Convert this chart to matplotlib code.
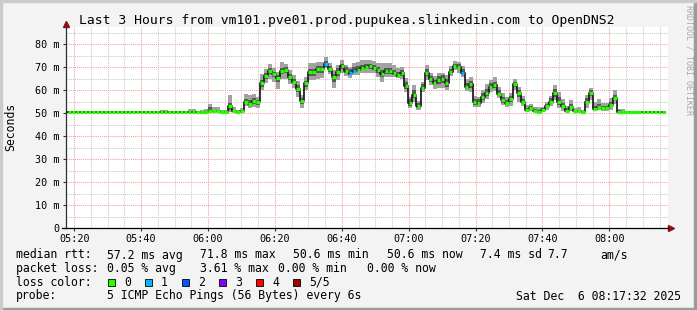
import numpy as np
import matplotlib
matplotlib.use("Agg")
import matplotlib.pyplot as plt
from matplotlib.patches import Rectangle

plt.rcParams["font.family"] = "DejaVu Sans Mono"

# %% Data (one value per 72 s step)

T_START = 317 + 32 / 60        # 05:17:32 in minutes since midnight
T_SPAN = 180                   # last 3 hours
STEP = 1.2                     # minutes per RRD step
T_OFFSET = 0.4                 # first step starts a bit after the left edge

median = ([50.6] * 30 +
          [50.6, 50.6, 50.6, 50.6, 50.6, 51.0, 51.0, 51.0, 50.6, 50.6,
           53.2, 50.8, 50.6, 50.8, 54.9, 53.8, 55.4, 54.6, 62.9, 66.1,
           68.3, 66.8, 65.4, 68.4, 68.7, 65.8, 63.6, 60.4, 55.4, 62.9,
           67.7, 67.7, 69.1, 69.1, 71.3, 69.2, 65.8, 67.7, 70.3, 68.4,
           67.5, 68.4, 68.9, 69.7, 70.1, 70.3, 69.6, 68.7, 66.9, 68.3,
           68.4, 67.4, 66.4, 67.2, 61.9, 54.2, 57.8, 53.2, 61.0, 67.5,
           64.8, 62.9, 64.3, 64.9, 63.2, 67.7, 70.6, 70.1, 67.5, 61.4,
           62.6, 54.6, 54.5, 56.8, 58.9, 61.4, 62.0, 58.3, 55.7, 54.5,
           56.1, 62.5, 58.6, 55.0, 51.3, 52.0, 51.0, 50.6, 51.3, 53.0,
           54.9, 58.9, 54.9, 53.0, 51.0, 52.8, 51.0, 51.0, 50.6, 54.9,
           58.6, 51.6, 52.8, 52.0, 52.0, 53.5, 56.7, 50.6, 50.6, 50.6] +
          [50.6] * 9)

# slowest ping of the 5
ping_max = ([50.6] * 23 + [51.3, 51.3] + [50.6] * 5 +
            [51.7, 51.7, 50.6, 51.3, 51.6, 53.9, 52.5, 52.5, 51.5, 51.3,
             57.8, 52.7, 51.2, 52.0, 58.3, 58.0, 58.3, 57.0, 67.0, 69.0,
             71.5, 69.5, 68.0, 72.0, 71.5, 68.5, 66.5, 64.0, 58.0, 65.5,
             71.6, 71.6, 72.3, 72.3, 74.5, 71.6, 68.5, 70.9, 73.0, 70.9,
             70.1, 71.6, 72.3, 73.0, 73.0, 73.0, 72.5, 71.6, 71.6, 71.6,
             71.6, 70.9, 69.4, 70.1, 65.1, 57.1, 62.2, 55.3, 63.6, 70.9,
             67.5, 66.0, 67.5, 67.5, 66.5, 70.5, 72.5, 72.3, 70.5, 65.0,
             65.5, 57.5, 57.1, 60.0, 62.5, 64.5, 65.5, 61.5, 58.5, 57.0,
             58.5, 65.0, 61.5, 57.5, 53.5, 54.0, 52.5, 52.5, 52.8, 55.0,
             57.5, 62.0, 59.3, 56.0, 53.0, 55.5, 52.0, 52.5, 51.3, 58.0,
             61.0, 55.0, 56.0, 54.5, 54.5, 56.5, 60.0, 51.7, 51.7, 50.6] +
            [50.6] * 9)

# 4th ping (upper edge of the dark smoke)
ping_4 = ([50.6] * 23 + [50.9, 50.9] + [50.6] * 5 +
          [51.0, 51.0, 50.6, 50.9, 51.0, 52.5, 51.5, 51.5, 51.0, 50.9,
           54.5, 51.5, 50.9, 51.3, 56.0, 55.5, 56.5, 55.5, 64.5, 67.5,
           69.5, 68.0, 66.5, 69.5, 70.0, 67.0, 65.0, 62.0, 56.5, 64.0,
           69.0, 69.0, 70.5, 70.5, 72.5, 70.5, 67.0, 69.5, 71.5, 70.0,
           69.0, 70.0, 70.5, 71.0, 71.5, 71.5, 71.0, 70.0, 68.5, 69.5,
           69.5, 68.5, 68.0, 68.5, 63.5, 56.0, 60.0, 54.5, 62.5, 69.0,
           66.0, 64.5, 66.0, 66.5, 65.0, 69.0, 71.5, 71.5, 69.0, 63.0,
           64.0, 56.0, 56.0, 58.5, 60.5, 63.0, 63.5, 60.0, 57.0, 55.5,
           57.5, 63.5, 60.0, 56.0, 52.0, 53.0, 51.8, 51.3, 52.0, 54.0,
           56.5, 60.5, 57.0, 54.5, 52.0, 54.0, 51.5, 51.5, 51.0, 56.5,
           60.0, 53.0, 54.0, 53.0, 53.0, 55.0, 58.0, 51.3, 51.0, 50.6] +
          [50.6] * 9)

# 2nd ping (lower edge of the dark smoke)
ping_2 = ([50.6] * 30 +
          [50.6, 50.6, 50.6, 50.6, 50.6, 50.8, 50.8, 50.8, 50.6, 50.6,
           51.5, 50.6, 50.6, 50.6, 54.0, 53.0, 54.0, 53.5, 61.5, 65.0,
           67.0, 65.5, 63.5, 67.0, 67.5, 64.5, 62.5, 59.0, 54.0, 61.5,
           66.0, 66.0, 67.5, 67.5, 70.0, 68.0, 63.5, 66.0, 69.0, 67.5,
           66.5, 67.5, 68.0, 68.5, 69.0, 69.0, 68.5, 67.5, 65.5, 67.0,
           67.0, 66.5, 65.5, 66.0, 60.5, 53.0, 56.5, 52.0, 60.0, 66.0,
           63.5, 62.0, 62.5, 63.0, 61.5, 67.0, 69.5, 69.0, 66.5, 60.5,
           61.0, 53.5, 53.5, 55.5, 57.5, 60.5, 61.0, 57.5, 54.5, 53.5,
           55.0, 61.5, 57.0, 54.0, 51.0, 51.5, 50.8, 50.6, 51.0, 52.3,
           54.0, 57.0, 53.5, 52.0, 50.8, 52.0, 50.8, 50.8, 50.6, 54.0,
           57.5, 51.2, 52.2, 51.5, 51.5, 52.5, 55.5, 50.6, 50.6, 50.6] +
          [50.6] * 9)

# fastest ping of the 5
ping_min = ([50.6] * 30 +
            [50.6, 50.6, 50.6, 50.6, 50.6, 50.6, 50.6, 50.6, 50.6, 50.6,
             50.6, 50.6, 50.6, 50.6, 53.0, 52.0, 52.5, 52.0, 60.0, 63.0,
             65.0, 63.5, 60.5, 65.0, 65.0, 62.5, 61.0, 57.0, 52.0, 60.0,
             64.3, 64.3, 65.0, 65.1, 69.4, 67.0, 60.7, 64.3, 67.3, 66.0,
             65.1, 66.5, 66.5, 67.3, 67.3, 67.3, 67.3, 65.8, 63.6, 65.8,
             65.8, 65.8, 65.1, 64.6, 59.3, 52.0, 55.0, 51.3, 59.3, 64.3,
             62.0, 60.5, 60.7, 61.0, 60.0, 66.0, 68.5, 67.5, 65.5, 59.5,
             59.3, 52.5, 52.5, 54.5, 56.0, 59.0, 59.5, 56.5, 53.5, 52.5,
             53.0, 60.0, 55.0, 53.0, 50.6, 50.8, 50.6, 50.6, 50.6, 51.5,
             53.0, 55.5, 52.0, 51.0, 50.6, 51.0, 50.6, 50.6, 50.6, 52.0,
             55.5, 50.8, 51.5, 51.0, 51.0, 51.5, 54.0, 50.6, 50.6, 50.6] +
            [50.6] * 9)

loss1_steps = [64, 70, 71, 98]     # steps where 1 of 5 pings was lost

x_tick_min = [320, 340, 360, 380, 400, 420, 440, 460, 480]
x_tick_labels = ["05:20", "05:40", "06:00", "06:20", "06:40",
                 "07:00", "07:20", "07:40", "08:00"]
y_ticks = [0, 10, 20, 30, 40, 50, 60, 70, 80]
y_tick_labels = ["0", "10 m", "20 m", "30 m", "40 m", "50 m", "60 m", "70 m", "80 m"]

loss_names = ["0", "1", "2", "3", "4", "5/5"]
loss_colors = ["#26ff00", "#00b8ff", "#0059ff", "#7e00ff", "#ff0000", "#a10000"]

stats_rtt = [("median rtt:", 16), ("57.2 ms avg", 107), ("71.8 ms max", 200),
             ("50.6 ms min", 293), ("50.6 ms now", 387), ("7.4 ms sd", 480),
             ("7.7", 547), ("am/s", 600)]
stats_loss = [("packet loss:", 16), ("0.05 % avg", 107), ("3.61 % max", 200),
              ("0.00 % min", 278), ("0.00 % now", 367)]

# %% Figure layout (pixel geometry of the rrdtool canvas)

W, H = 697, 310
fig = plt.figure(figsize=(W / 100, H / 100), dpi=100, facecolor="#f3f3f3")

def fx(px):
    return px / W

def fy(py):
    return 1 - py / H

# 3D-ish frame
fig.patches.append(Rectangle((0, 0), 1, fy(H - 2), transform=fig.transFigure,
                             color="#9b9b9b", zorder=0))
fig.patches.append(Rectangle((fx(W - 3), 0), fx(3), 1, transform=fig.transFigure,
                             color="#9b9b9b", zorder=0))
fig.patches.append(Rectangle((0, 0), fx(2), 1, transform=fig.transFigure,
                             color="#cbcbcb", zorder=0))
fig.patches.append(Rectangle((0, fy(2)), 1, 2 / H, transform=fig.transFigure,
                             color="#cbcbcb", zorder=0))

L, R, TOP, BOT = 66, 668, 27, 228
ax = fig.add_axes([fx(L), fy(BOT), fx(R - L), (BOT - TOP) / H])
ax.set_facecolor("white")

# %% Smoke + median

n = len(median)
edges = T_START + T_OFFSET + STEP * np.arange(n + 1)

def stepped(vals):
    return np.append(vals, vals[-1])

ax.fill_between(edges, stepped(ping_min), stepped(ping_max), step="post",
                color="#a2a2a2", lw=0, zorder=2)
ax.fill_between(edges, stepped(ping_2), stepped(ping_4), step="post",
                color="#585858", lw=0, zorder=3)
ax.step(edges, stepped(median), where="post", color="#202020", lw=1.3, zorder=4)

seg_colors = [loss_colors[1] if i in loss1_steps else loss_colors[0] for i in range(n)]
ax.hlines(median, edges[:-1] + 0.08, edges[1:] - 0.08, colors=seg_colors,
          lw=2.3, zorder=5)

# %% Axes, grid, ticks

ax.set_xlim(T_START, T_START + T_SPAN)
ax.set_ylim(0, (BOT - TOP) / 2.3)

ax.set_xticks(x_tick_min)
ax.set_xticklabels(x_tick_labels)
ax.set_xticks(np.arange(320, 500, 5), minor=True)
ax.set_yticks(y_ticks)
ax.set_yticklabels(y_tick_labels)
ax.set_yticks(np.arange(0, 90, 5), minor=True)

ax.set_axisbelow(True)
ax.grid(which="minor", color="#c8c8c8", linestyle=(0, (1, 1)), lw=0.75)
ax.grid(which="major", color="#f59c9c", linestyle=(0, (1, 1)), lw=0.75)

for s in ["top", "right"]:
    ax.spines[s].set_visible(False)
ax.spines["left"].set_color("#303030")
ax.spines["bottom"].set_color("#000000")
ax.spines["left"].set_linewidth(0.9)
ax.spines["bottom"].set_linewidth(0.9)

ax.tick_params(which="major", length=2.5, width=0.8, color="#303030",
               labelsize=7.3, pad=2)
ax.tick_params(which="minor", length=0)

# axis arrows and the short stub left of the origin
ax.plot([-4 / (R - L), 0], [0, 0], color="#000000", lw=0.9,
        transform=ax.transAxes, clip_on=False)
ax.plot(1 + 3 / (R - L), 0, marker=">", ms=4.5, color="#8b1010",
        transform=ax.transAxes, clip_on=False)
ax.plot(0, 1 + 3 / (BOT - TOP), marker="^", ms=4.5, color="#8b1010",
        transform=ax.transAxes, clip_on=False)

# %% Texts

fig.text(fx(347), fy(24), "Last 3 Hours from vm101.pve01.prod.pupukea.slinkedin.com to OpenDNS2",
         ha="center", va="baseline", fontsize=9.4)
fig.text(fx(11), fy(127), "Seconds", rotation=90, ha="center", va="center", fontsize=8.3)
fig.text(fx(688.5), fy(60), "RRDTOOL / TOBI OETIKER", rotation=270,
         ha="center", va="center", fontsize=6, color="#a8a8a8")

LEG_FS = 8.3
for txt, px in stats_rtt:
    fig.text(fx(px), fy(258.5), txt, ha="left", va="baseline", fontsize=LEG_FS)
for txt, px in stats_loss:
    fig.text(fx(px), fy(272), txt, ha="left", va="baseline", fontsize=LEG_FS)

fig.text(fx(16), fy(285.8), "loss color:", ha="left", va="baseline", fontsize=LEG_FS)
for i, (name, col) in enumerate(zip(loss_names, loss_colors)):
    bx = 108.3 + 37 * i
    fig.patches.append(Rectangle((fx(bx), fy(285.7)), fx(7), 7 / H,
                                 transform=fig.transFigure, facecolor=col,
                                 edgecolor="#000000", lw=0.6))
    fig.text(fx(bx + 15.7), fy(285.8), name, ha="left", va="baseline", fontsize=LEG_FS)

fig.text(fx(16), fy(299.5), "probe:", ha="left", va="baseline", fontsize=LEG_FS)
fig.text(fx(107), fy(299.5), "5 ICMP Echo Pings (56 Bytes) every 6s",
         ha="left", va="baseline", fontsize=LEG_FS)
fig.text(fx(681), fy(299.5), "Sat Dec  6 08:17:32 2025",
         ha="right", va="baseline", fontsize=LEG_FS)

fig.savefig("out.png", dpi=100, facecolor=fig.get_facecolor())
